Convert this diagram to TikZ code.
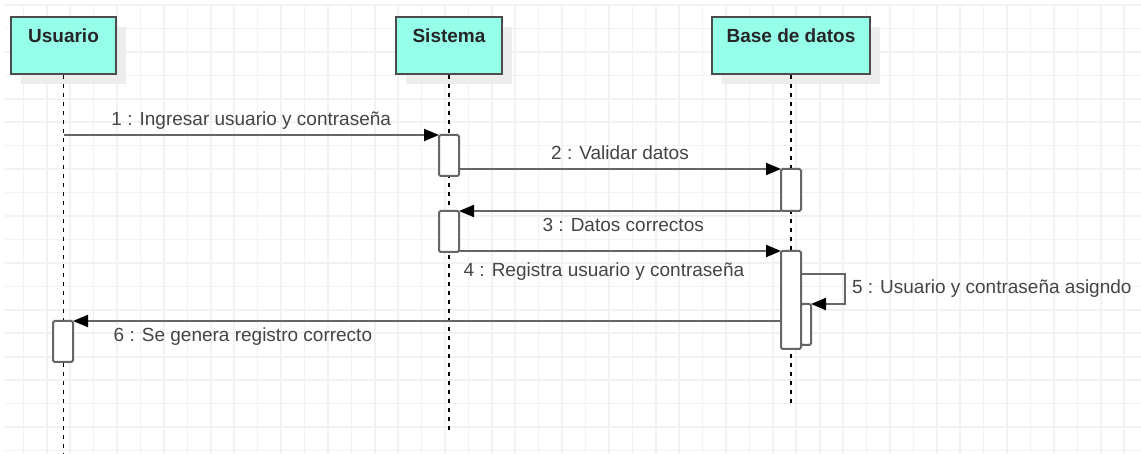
\documentclass[tikz,border=0pt]{standalone}
\usepackage{fontspec}
\setmainfont{Liberation Sans}
\usetikzlibrary{arrows.meta,shadows}
\definecolor{lifebox}{HTML}{96FFEA}
\definecolor{gridgray}{HTML}{F2F2F2}
\definecolor{msggray}{HTML}{666666}
\definecolor{txtgray}{HTML}{444444}
\begin{document}
\begin{tikzpicture}[x=1pt,y=-1pt,
  gridline/.style={gridgray, line width=1.6pt},
  actor/.style={draw=black!70, line width=1.6pt, fill=lifebox, minimum width=#1, minimum height=57pt, inner sep=0pt, font=\fontsize{19}{22}\selectfont\bfseries, text=black!85, text height=14pt, text depth=20pt, drop shadow={shadow xshift=10pt, shadow yshift=-10pt, fill=black!7, opacity=1}},
  lifeline/.style={black, line width=1.5pt, dash pattern=on 4pt off 5pt},
  act/.style={draw=msggray, line width=2pt, fill=white, rounded corners=1.5pt, minimum width=20pt, minimum height=#1, inner sep=0pt, outer sep=0pt},
  msg/.style={draw=msggray, line width=2pt, -{Triangle[length=15pt, width=12pt, color=black]}},
  lbl/.style={font=\fontsize{19}{22}\selectfont, text=txtgray, inner sep=1pt, text height=14pt, text depth=4pt}]
\useasboundingbox (0,0) rectangle (1141,454);
\foreach \k in {1,...,48} \draw[gridline] (\k*23.42,5) -- (\k*23.42,454);
\foreach \k in {0,...,19} \draw[gridline] (5,5+\k*23.45) -- (1141,5+\k*23.45);
\node[actor=105pt] (usr) at (63.5,45.5) {Usuario};
\node[actor=106pt] (sis) at (449,45.5) {Sistema};
\node[actor=158pt] (bd) at (791,45.5) {Base de datos};
\coordinate (usrend) at (63.5,454);
\coordinate (sisend) at (449,431);
\coordinate (bdend) at (791,404);
\foreach \a/\b in {usr/usrend, sis/sisend, bd/bdend} \draw[lifeline] (\a.south) -- (\b);
\node[act=41pt] (s1) at (449,155.5) {};
\node[act=42pt] (b1) at (791,190) {};
\node[act=41pt] (s2) at (449,231.5) {};
\node[act=98pt] (b2) at (791,300) {};
\node[act=41pt, minimum width=10pt] (b3) at (806,324.5) {};
\node[act=41pt] (u1) at (63,341.5) {};
\coordinate (m1) at (63.5,135);
\coordinate (m5) at (801,274);
\draw[msg] (m1) -- (s1.north west) node[lbl, midway, above=3pt] {1 : Ingresar usuario y contraseña};
\draw[msg] (s1.east |- b1.north) -- (b1.north west) node[lbl, midway, above=3pt] {2 : Validar datos};
\draw[msg] (b1.south west) -- (s2.north east) node[lbl, pos=.49, below=5pt] {3 : Datos correctos};
\draw[msg] (s2.east |- b2.north) -- (b2.north west) node[lbl, pos=.45, below=10pt] {4 : Registra usuario y contraseña};
\draw[msg] (m5) -- ++(44,0) |- (b3.north east) node[lbl, pos=.25, right=5pt] {5 : Usuario y contraseña asigndo};
\draw[msg] (b2.west |- u1.north) -- (u1.north east) node[lbl, pos=.76, below=5pt] {6 : Se genera registro correcto};
\end{tikzpicture}
\end{document}
